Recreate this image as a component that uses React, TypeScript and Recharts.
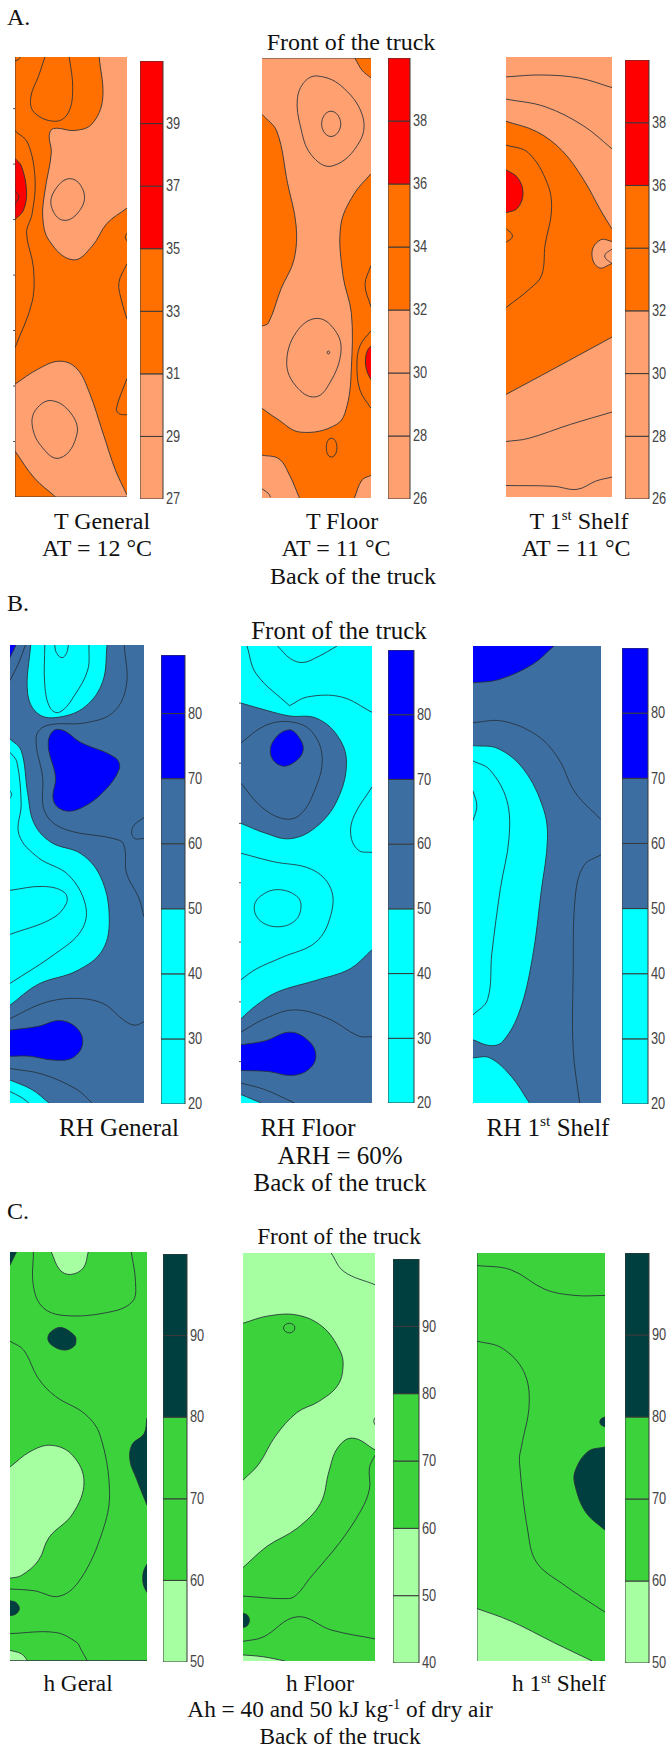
import React from 'react';
import { Bar, BarChart, Scatter, ScatterChart, XAxis, YAxis } from 'recharts';

type Pt = [number, number];
// runs are traced curves, a single point is a corner on the border of the map
type Area = { band: number; runs: Pt[][]; ring?: boolean };

const orangeBands = ['#FFA070', '#FF7000', '#FF0000'];
const blueBands = ['#00FFFF', '#3D6EA2', '#0000FF'];
const greenBands = ['#A6FFA0', '#3CD23C', '#003F3F'];

// A. temperature maps
const tGeneralAreas: Area[] = [
  { band: 0, runs: [[[197, 0], [205, 110], [180, 175], [140, 192], [90, 187], [80, 205], [85, 250], [70, 350], [65, 420], [80, 480], [135, 530], [180, 495], [215, 435], [262, 395]], [[262, 0]]] },
  { band: 0, runs: [[[0, 855], [55, 815], [105, 795], [145, 815], [175, 880], [205, 980], [235, 1080], [262, 1145]], [[262, 1150]], [[95, 1150], [45, 1100], [0, 1030]]] },
  { band: 2, runs: [[[0, 265], [15, 285], [27, 350], [20, 400], [0, 425]]] },
];
const tGeneralLines: Pt[][] = [
  [[0, 193], [30, 225], [47, 320], [40, 410], [27, 460], [43, 550], [40, 640], [0, 760]],
  [[70, 0], [55, 50], [37, 105], [45, 145], [95, 168], [125, 145], [135, 80], [127, 0]],
  [[262, 540], [243, 590], [250, 640], [262, 685]],
  [[262, 840], [237, 920], [245, 933], [262, 935]],
  [[262, 460], [258, 470], [262, 482]],
  [[0, 350], [9, 365], [0, 385]],
  [[0, 10], [9, 6], [12, 0]],
  [[0, 0], [0, 1150]],
  [[0, 1150], [262, 1150]],
];
const tGeneralRings: Pt[][] = [
  [[130, 318], [160, 350], [155, 395], [115, 427], [85, 390], [95, 345]],
  [[85, 898], [130, 930], [145, 985], [105, 1048], [60, 1015], [40, 960], [50, 920]],
];
const tGeneralSide = [135, 280, 425, 570, 715, 860, 1005];

const tFloorAreas: Area[] = [
  { band: 1, runs: [[[0, 147], [35, 192], [60, 327], [80, 437], [75, 527], [45, 602], [15, 692], [0, 700]]] },
  { band: 1, runs: [[[256, 302], [215, 357], [185, 437], [190, 567], [210, 667], [210, 807], [200, 907], [175, 957], [90, 977], [35, 942], [0, 915]], [[0, 1037], [40, 1047], [65, 1090], [88, 1149]], [[217, 1149], [235, 1102], [256, 1090]]] },
  { band: 1, runs: [[[218, 0], [235, 32], [256, 52]], [[256, 0]]] },
  { band: 2, runs: [[[256, 752], [247, 765], [243, 792], [247, 820], [256, 840]]] },
];
const tFloorLines: Pt[][] = [
  [[0, 1125], [15, 1137], [20, 1147]],
  [[256, 712], [230, 752], [223, 802], [230, 867], [256, 915]],
  [[256, 542], [242, 592], [256, 650]],
  [[0, 0], [256, 0]],
];
const tFloorRings: Pt[][] = [
  [[130, 47], [185, 72], [235, 147], [230, 217], [165, 282], [115, 252], [90, 177], [83, 107], [100, 62]],
  [[162, 139], [185, 172], [162, 205], [140, 172]],
  [[130, 680], [175, 717], [185, 772], [160, 847], [125, 885], [80, 857], [58, 797], [80, 717]],
  [[156, 765], [159, 769], [156, 773], [153, 769]],
  [[163, 993], [176, 1017], [163, 1042], [151, 1017]],
];

const tShelfAreas: Area[] = [
  { band: 1, runs: [[[0, 168], [72, 195], [132, 245], [182, 320], [222, 400], [249, 450]], [[249, 732], [112, 815], [0, 882]]] },
  { band: 0, runs: [[[249, 482], [222, 478], [202, 510], [217, 550], [249, 540]]] },
  { band: 2, runs: [[[0, 295], [27, 315], [40, 355], [27, 395], [0, 407]]] },
];
const tShelfLines: Pt[][] = [
  [[249, 502], [232, 520], [249, 540]],
  [[0, 448], [15, 468], [0, 485]],
  [[0, 230], [52, 250], [97, 330], [107, 400], [92, 490], [84, 570], [57, 605], [0, 655]],
  [[0, 52], [82, 47], [172, 55], [249, 80]],
  [[0, 110], [92, 130], [182, 180], [249, 240]],
  [[0, 1005], [52, 997], [152, 960], [249, 928]],
  [[0, 1120], [112, 1122], [167, 1130], [212, 1108], [249, 1098]],
];

// B. relative humidity maps
const rhGeneralAreas: Area[] = [
  { band: 0, runs: [[[48, 0], [41, 125], [66, 180], [116, 188], [176, 160], [216, 95], [226, 0]]] },
  { band: 0, runs: [[[0, 245], [26, 275], [41, 385], [56, 465], [96, 515], [166, 545], [211, 605], [231, 705], [216, 795], [156, 850], [66, 885], [0, 940]]] },
  { band: 0, runs: [[[0, 1135], [51, 1160], [91, 1195]], [[0, 1195]]] },
  { band: 2, ring: true, runs: [[[111, 220], [166, 255], [246, 295], [254, 325], [216, 385], [166, 425], [126, 432], [101, 405], [106, 345], [89, 255]]] },
  { band: 2, runs: [[[0, 1005], [66, 995], [116, 980], [156, 1000], [169, 1040], [146, 1077], [101, 1083], [46, 1073], [0, 1073]]] },
  { band: 2, runs: [[[14, 0], [0, 33]], [[0, 0]]] },
];
const rhGeneralLines: Pt[][] = [
  [[36, 0], [21, 45], [0, 93]],
  [[81, 0], [81, 105], [94, 165], [116, 175], [151, 130], [181, 65], [184, 0]],
  [[104, 0], [108, 20], [121, 33], [132, 20], [136, 0]],
  [[266, 0], [271, 105], [241, 175], [176, 203], [86, 210], [61, 240], [76, 345], [81, 435], [126, 480], [256, 510], [268, 535], [271, 595], [300, 660], [312, 710]],
  [[312, 450], [286, 475], [288, 503], [312, 505]],
  [[0, 280], [16, 305], [26, 415], [21, 495], [66, 555], [136, 600], [176, 680], [166, 745], [106, 805], [0, 883]],
  [[0, 380], [4, 390], [0, 400]],
  [[0, 640], [76, 630], [126, 645], [131, 675], [96, 715], [0, 755]],
  [[0, 975], [76, 935], [146, 922], [216, 935], [266, 980], [291, 992], [312, 983]],
  [[0, 1105], [76, 1120], [156, 1160], [191, 1195]],
  [[0, 1165], [26, 1180], [44, 1195]],
];

const rhFloorAreas: Area[] = [
  { band: 1, runs: [[[0, 149], [76, 173], [116, 183], [176, 188], [226, 233], [248, 303], [226, 403], [176, 473], [116, 503], [56, 488], [0, 463]]] },
  { band: 1, runs: [[[308, 793], [256, 843], [176, 873], [86, 903], [36, 938], [0, 973]], [[0, 1193]], [[308, 1193]]] },
  { band: 0, runs: [[[0, 1171], [26, 1183], [48, 1193]], [[0, 1193]]] },
  { band: 2, ring: true, runs: [[[111, 219], [136, 238], [146, 273], [126, 303], [96, 313], [71, 288], [76, 248]]] },
  { band: 2, runs: [[[0, 1041], [56, 1031], [116, 1008], [161, 1033], [176, 1073], [156, 1108], [116, 1121], [66, 1111], [0, 1108]]] },
];
const rhFloorLines: Pt[][] = [
  [[14, 0], [36, 73], [114, 156]],
  [[114, 156], [156, 133], [236, 133], [308, 173]],
  [[86, 0], [116, 33], [146, 43], [181, 28], [226, 0]],
  [[0, 253], [56, 208], [116, 198], [166, 223], [191, 293], [171, 383], [136, 443], [96, 450], [46, 418], [0, 358]],
  [[308, 368], [266, 443], [258, 493], [276, 533], [308, 539]],
  [[0, 541], [76, 563], [166, 583], [211, 633], [211, 703], [176, 773], [96, 813], [36, 843], [0, 871]],
  [[0, 1008], [56, 973], [126, 950], [206, 973], [276, 1018], [308, 1020]],
  [[0, 1141], [56, 1158], [126, 1193]],
];
const rhFloorRings: Pt[][] = [
  [[86, 636], [131, 653], [141, 683], [126, 718], [86, 733], [46, 718], [31, 683], [46, 653]],
];
const rhFloorSide = [149, 306, 463, 618, 773, 929, 1085];

const rhShelfAreas: Area[] = [
  { band: 2, runs: [[[189, 0], [139, 48], [59, 88], [0, 96]], [[0, 0]]] },
  { band: 0, runs: [[[0, 260], [59, 268], [119, 323], [164, 423], [174, 503], [159, 643], [139, 813], [109, 953], [69, 1033], [39, 1043], [0, 1028]]] },
  { band: 0, runs: [[[0, 1075], [39, 1075], [89, 1123], [132, 1193]], [[0, 1193]]] },
];
const rhShelfLines: Pt[][] = [
  [[0, 200], [69, 196], [149, 233], [199, 293], [239, 383], [299, 453]],
  [[0, 300], [39, 323], [79, 403], [84, 503], [64, 633], [44, 803], [34, 923], [0, 963]],
  [[0, 378], [9, 418], [0, 456]],
  [[299, 545], [259, 573], [239, 653], [234, 853], [234, 1053], [249, 1193]],
];

// C. enthalpy maps
const hGeneralAreas: Area[] = [
  { band: 0, runs: [[[97, 0], [117, 50], [142, 63], [172, 45], [184, 0]]] },
  { band: 0, runs: [[[0, 603], [47, 560], [97, 542], [147, 570], [174, 645], [147, 735], [92, 800], [67, 865], [27, 907], [0, 915]]] },
  { band: 0, runs: [[[0, 1117], [27, 1127], [42, 1147]], [[0, 1147]]] },
  { band: 2, runs: [[[15, 0], [0, 37]], [[0, 0]]] },
  { band: 2, ring: true, runs: [[[122, 212], [152, 235], [155, 250], [150, 265], [127, 275], [97, 260], [89, 240], [100, 220]]] },
  { band: 2, runs: [[[322, 465], [315, 510], [287, 540], [282, 585], [297, 635], [322, 710]]] },
  { band: 2, runs: [[[322, 875], [314, 895], [312, 915], [314, 935], [322, 955]]] },
  { band: 2, runs: [[[0, 978], [14, 983], [22, 1000], [14, 1015], [0, 1020]]] },
];
const hGeneralLines: Pt[][] = [
  [[55, 0], [55, 95], [77, 155], [127, 178], [227, 170], [287, 140], [295, 85], [285, 0]],
  [[0, 250], [32, 275], [67, 355], [107, 405], [177, 455], [212, 515], [234, 675], [217, 785], [167, 915], [117, 965], [57, 950], [0, 945]],
  [[0, 1070], [107, 1067], [157, 1095], [167, 1115], [182, 1147]],
  [[0, 1146], [322, 1146]],
];

const hFloorAreas: Area[] = [
  { band: 1, runs: [[[0, 197], [57, 177], [127, 174], [187, 207], [227, 272], [235, 317], [222, 372], [177, 417], [127, 447], [77, 512], [37, 592], [0, 637]]] },
  { band: 1, runs: [[[310, 552], [257, 519], [222, 547], [202, 612], [182, 702], [127, 772], [57, 822], [0, 882]], [[0, 1144]], [[310, 1144]]] },
  { band: 0, runs: [[[0, 1127], [47, 1132], [99, 1144]], [[0, 1144]]] },
  { band: 2, runs: [[[0, 1010], [10, 1015], [15, 1030], [10, 1045], [0, 1050]]] },
];
const hFloorLines: Pt[][] = [
  [[207, 0], [237, 52], [310, 89]],
  [[310, 567], [297, 602], [297, 662], [277, 722], [227, 812], [157, 912], [127, 957], [107, 969], [0, 962]],
  [[310, 462], [307, 472], [310, 482]],
  [[0, 1089], [47, 1077], [127, 1020], [207, 1057], [310, 1082]],
];
const hFloorRings: Pt[][] = [
  [[109, 197], [122, 210], [109, 224], [95, 210]],
];

const hShelfAreas: Area[] = [
  { band: 0, runs: [[[0, 997], [79, 1032], [179, 1092], [269, 1144]], [[0, 1144]]] },
  { band: 2, runs: [[[299, 544], [259, 557], [229, 612], [229, 652], [254, 727], [299, 777]]] },
  { band: 2, runs: [[[299, 460], [290, 465], [287, 474], [290, 482], [299, 487]]] },
];
const hShelfLines: Pt[][] = [
  [[0, 35], [79, 47], [159, 102], [229, 119], [299, 119]],
  [[0, 247], [59, 267], [109, 332], [122, 422], [104, 542], [99, 582], [119, 782], [139, 867], [199, 927], [299, 1007]],
  [[0, 0], [0, 1144]],
];

// colour scales: tick labels and where each colour band stops
const tGeneralTicks = [27, 29, 31, 33, 35, 37, 39];
const tGeneralStops = [27, 31, 35, 41];
const tFloorTicks = [26, 28, 30, 32, 34, 36, 38];
const tFloorStops = [26, 32, 36, 40];
const rhTicks = [20, 30, 40, 50, 60, 70, 80];
const rhGeneralStops = [20, 50, 70, 89];
const rhStops = [20, 50, 70, 90];
const hGeneralTicks = [50, 60, 70, 80, 90];
const hGeneralStops = [50, 60, 80, 100];
const hFloorTicks = [40, 50, 60, 70, 80, 90];
const hFloorStops = [40, 60, 80, 100];

const panels = [
  { left: 15, top: 57, w: 112, h: 440, xMax: 262, yMax: 1150, colors: orangeBands, base: 1, areas: tGeneralAreas, lines: tGeneralLines, rings: tGeneralRings, side: tGeneralSide },
  { left: 262, top: 58, w: 109, h: 440, xMax: 256, yMax: 1149, colors: orangeBands, base: 0, areas: tFloorAreas, lines: tFloorLines, rings: tFloorRings, side: null },
  { left: 506, top: 57, w: 106, h: 440, xMax: 249, yMax: 1150, colors: orangeBands, base: 0, areas: tShelfAreas, lines: tShelfLines, rings: [], side: null },
  { left: 10, top: 645, w: 134, h: 458, xMax: 312, yMax: 1195, colors: blueBands, base: 1, areas: rhGeneralAreas, lines: rhGeneralLines, rings: [], side: null },
  { left: 241, top: 646, w: 131, h: 457, xMax: 308, yMax: 1193, colors: blueBands, base: 0, areas: rhFloorAreas, lines: rhFloorLines, rings: rhFloorRings, side: rhFloorSide },
  { left: 473, top: 646, w: 128, h: 457, xMax: 299, yMax: 1193, colors: blueBands, base: 1, areas: rhShelfAreas, lines: rhShelfLines, rings: [], side: null },
  { left: 10, top: 1252, w: 137, h: 409, xMax: 322, yMax: 1147, colors: greenBands, base: 1, areas: hGeneralAreas, lines: hGeneralLines, rings: [], side: null },
  { left: 243, top: 1253, w: 132, h: 408, xMax: 310, yMax: 1144, colors: greenBands, base: 0, areas: hFloorAreas, lines: hFloorLines, rings: hFloorRings, side: null },
  { left: 477, top: 1253, w: 128, h: 408, xMax: 299, yMax: 1144, colors: greenBands, base: 1, areas: hShelfAreas, lines: hShelfLines, rings: [], side: null },
];

const scales = [
  { left: 140, top: 61, w: 23, h: 438, colors: orangeBands, ticks: tGeneralTicks, stops: tGeneralStops },
  { left: 388, top: 58, w: 22, h: 441, colors: orangeBands, ticks: tFloorTicks, stops: tFloorStops },
  { left: 625, top: 60, w: 24, h: 439, colors: orangeBands, ticks: tFloorTicks, stops: tFloorStops },
  { left: 161, top: 655, w: 24, h: 449, colors: blueBands, ticks: rhTicks, stops: rhGeneralStops },
  { left: 388, top: 650, w: 26, h: 453, colors: blueBands, ticks: rhTicks, stops: rhStops },
  { left: 622, top: 648, w: 26, h: 456, colors: blueBands, ticks: rhTicks, stops: rhStops },
  { left: 163, top: 1254, w: 24, h: 408, colors: greenBands, ticks: hGeneralTicks, stops: hGeneralStops },
  { left: 393, top: 1259, w: 26, h: 404, colors: greenBands, ticks: hFloorTicks, stops: hFloorStops },
  { left: 625, top: 1253, w: 24, h: 410, colors: greenBands, ticks: hGeneralTicks, stops: hGeneralStops },
];

const labels = [
  { x: 7, y: 17, size: 24, anchor: 'left', text: 'A.' },
  { x: 351, y: 42, size: 24, text: 'Front of the truck' },
  { x: 102, y: 521, size: 24, text: 'T General' },
  { x: 97, y: 548, size: 24, text: 'AT = 12 °C' },
  { x: 342, y: 521, size: 24, text: 'T Floor' },
  { x: 336, y: 548, size: 24, text: 'AT = 11 °C' },
  { x: 579, y: 521, size: 24, text: 'T 1', sup: 'st', rest: ' Shelf' },
  { x: 576, y: 548, size: 24, text: 'AT = 11 °C' },
  { x: 353, y: 576, size: 24, text: 'Back of the truck' },
  { x: 7, y: 603, size: 24, anchor: 'left', text: 'B.' },
  { x: 339, y: 630, size: 25, text: 'Front of the truck' },
  { x: 119, y: 1127, size: 25, text: 'RH General' },
  { x: 308, y: 1127, size: 25, text: 'RH Floor' },
  { x: 548, y: 1127, size: 25, text: 'RH 1', sup: 'st', rest: ' Shelf' },
  { x: 340, y: 1155, size: 25, text: 'ARH = 60%' },
  { x: 340, y: 1182, size: 25, text: 'Back of the truck' },
  { x: 7, y: 1211, size: 24, anchor: 'left', text: 'C.' },
  { x: 339, y: 1237, size: 23.3, text: 'Front of the truck' },
  { x: 78, y: 1684, size: 23.3, text: 'h Geral' },
  { x: 320, y: 1684, size: 23.3, text: 'h Floor' },
  { x: 559, y: 1684, size: 23.3, text: 'h 1', sup: 'st', rest: ' Shelf' },
  { x: 340, y: 1710, size: 23.3, text: 'Ah = 40 and 50 kJ kg', sup: '-1', rest: ' of dry air' },
  { x: 340, y: 1737, size: 23.3, text: 'Back of the truck' },
];

const LINE_COLOR = '#26303a';
const SIDE_GAP = 3;

// smooth curve through the traced points, handles follow the neighbours' direction
const spline = (p: { x: number; y: number }[], ring: boolean) => {
  const at = (i: number) => (ring ? p[(i + p.length) % p.length] : p[Math.max(0, Math.min(p.length - 1, i))]);
  const dir = (from: { x: number; y: number }, to: { x: number; y: number }) => {
    const len = Math.hypot(to.x - from.x, to.y - from.y) || 1;
    return { x: (to.x - from.x) / len, y: (to.y - from.y) / len };
  };
  let d = '';
  const n = ring ? p.length : p.length - 1;
  for (let i = 0; i < n; i++) {
    const a = at(i - 1), b = at(i), c = at(i + 1), e = at(i + 2);
    const h = Math.hypot(c.x - b.x, c.y - b.y) * 0.36;
    const t1 = dir(a, c), t2 = dir(b, e);
    d += ` C${b.x + t1.x * h} ${b.y + t1.y * h} ${c.x - t2.x * h} ${c.y - t2.y * h} ${c.x} ${c.y}`;
  }
  return d;
};

const drawContour = (runs: Pt[][], fill: string | null, ring: boolean) => (props: any) => {
  const pts = props.points as { x: number; y: number }[];
  let used = 0;
  let area = '';
  let outline = '';
  runs.forEach((run, i) => {
    const part = pts.slice(used, used + run.length);
    used += run.length;
    const head = `${part[0].x} ${part[0].y}`;
    area += `${i === 0 ? 'M' : ' L'}${head}`;
    if (part.length > 1) {
      const curve = spline(part, ring);
      area += curve;
      outline += ` M${head}${curve}`;
    }
  });
  return (
    <g>
      {fill && <path d={`${area} Z`} fill={fill} stroke="none" />}
      {outline && <path d={outline} fill="none" stroke={LINE_COLOR} strokeWidth={1} strokeOpacity={0.85} />}
    </g>
  );
};

const ContourMap = ({ panel }: { panel: (typeof panels)[number] }) => {
  const background: Pt[][] = [[[0, 0]], [[panel.xMax, 0]], [[panel.xMax, panel.yMax]], [[0, panel.yMax]]];
  const shapes = [
    { runs: background, fill: panel.colors[panel.base], ring: false },
    ...panel.areas.map((a) => ({ runs: a.runs, fill: panel.colors[a.band], ring: !!a.ring })),
    ...panel.lines.map((l) => ({ runs: [l], fill: null, ring: false })),
    ...panel.rings.map((l) => ({ runs: [l], fill: null, ring: true })),
  ];
  const gap = panel.side ? SIDE_GAP : 0;
  return (
    <div style={{ position: 'absolute', left: panel.left - gap, top: panel.top }}>
      <ScatterChart width={panel.w + gap} height={panel.h} margin={{ top: 0, right: 0, bottom: 0, left: 0 }}>
        <XAxis type="number" dataKey="x" domain={[0, panel.xMax]} hide allowDataOverflow />
        <YAxis
          type="number"
          dataKey="y"
          domain={[0, panel.yMax]}
          reversed
          allowDataOverflow
          hide={!panel.side}
          width={gap}
          ticks={panel.side ?? undefined}
          interval={0}
          axisLine={false}
          tickSize={2}
          tickLine={{ stroke: '#555' }}
          tick={() => <g />}
        />
        {shapes.map((s, i) => (
          <Scatter
            key={i}
            data={s.runs.flat().map(([x, y]) => ({ x, y }))}
            shape={() => <g />}
            line={drawContour(s.runs, s.fill, s.ring)}
            isAnimationActive={false}
          />
        ))}
      </ScatterChart>
    </div>
  );
};

const PAD = 8;

const ScaleTick = ({ x, y, payload }: any) => (
  <text
    transform={`translate(${x} ${y}) scale(0.8 1)`}
    dy="0.33em"
    textAnchor="start"
    fontSize={16}
    fontFamily="Liberation Sans"
    fill="#444"
  >
    {payload.value}
  </text>
);

const ColorScale = ({ scale }: { scale: (typeof scales)[number] }) => {
  // one stacked piece per tick interval so every tick shows as a line across the scale
  const edges = [...new Set([...scale.ticks, ...scale.stops])].sort((a, b) => a - b);
  const pieces = edges.slice(1).map((to, i) => ({
    key: `piece${i}`,
    size: to - edges[i],
    color: scale.colors[scale.stops.findIndex((s) => s >= to) - 1],
  }));
  const row: Record<string, number | string> = { name: 'scale', offset: edges[0] };
  pieces.forEach((p) => {
    row[p.key] = p.size;
  });
  return (
    <div style={{ position: 'absolute', left: scale.left, top: scale.top - PAD }}>
      <BarChart
        width={scale.w + 30}
        height={scale.h + PAD * 2}
        data={[row]}
        barCategoryGap={0}
        margin={{ top: PAD, right: 0, bottom: PAD, left: 0 }}
      >
        <XAxis dataKey="name" hide />
        <YAxis
          orientation="right"
          type="number"
          width={30}
          domain={[scale.stops[0], scale.stops[3]]}
          ticks={scale.ticks}
          interval={0}
          allowDataOverflow
          axisLine={false}
          tickSize={0}
          tickMargin={3}
          tick={<ScaleTick />}
        />
        <Bar dataKey="offset" stackId="scale" fill="none" stroke="none" isAnimationActive={false} />
        {pieces.map((p) => (
          <Bar key={p.key} dataKey={p.key} stackId="scale" fill={p.color} stroke="#3a3a3a" strokeWidth={1} isAnimationActive={false} />
        ))}
      </BarChart>
    </div>
  );
};

export default function App() {
  return (
    <div style={{ position: 'absolute', left: 0, top: 0, width: 668, height: 1749, overflow: 'hidden', background: '#fff' }}>
      {panels.map((p, i) => (
        <ContourMap key={i} panel={p} />
      ))}
      {scales.map((s, i) => (
        <ColorScale key={i} scale={s} />
      ))}
      {labels.map((l, i) => (
        <div
          key={i}
          style={{
            position: 'absolute',
            left: l.x,
            top: l.y,
            transform: l.anchor === 'left' ? 'translateY(-50%)' : 'translate(-50%, -50%)',
            fontFamily: 'Liberation Serif',
            fontSize: l.size,
            lineHeight: 1,
            whiteSpace: 'pre',
            color: '#111',
          }}
        >
          {l.text}
          {l.sup && <sup style={{ fontSize: '0.62em', lineHeight: 0 }}>{l.sup}</sup>}
          {l.rest}
        </div>
      ))}
    </div>
  );
}
